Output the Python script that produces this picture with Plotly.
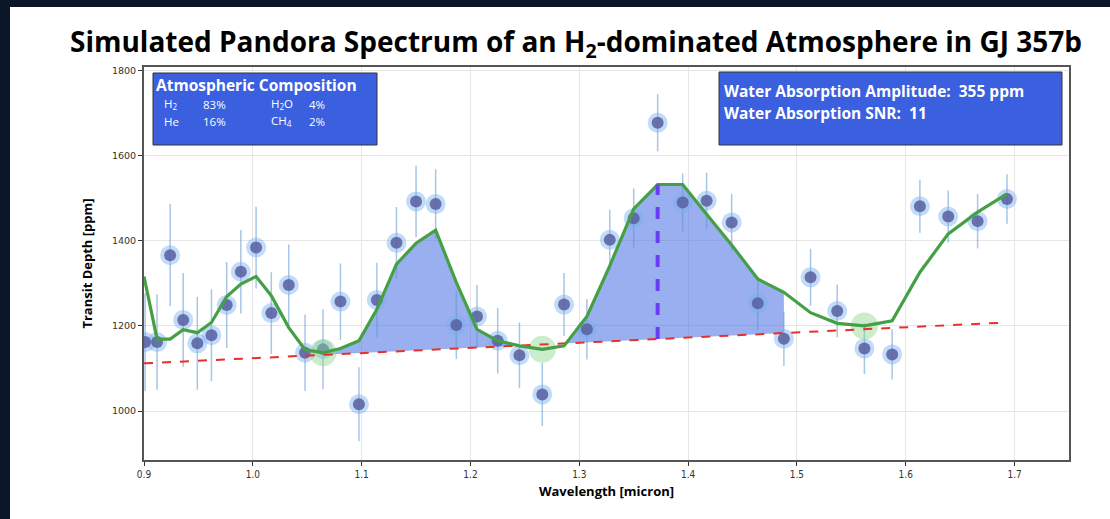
import numpy as np
import plotly.graph_objects as go

# ---------------- data ----------------
wavelength = [0.901, 0.912, 0.924, 0.936, 0.949, 0.962, 0.976, 0.989, 1.003, 1.017,
              1.033, 1.048, 1.0645, 1.0805, 1.0975, 1.114, 1.132, 1.150, 1.168, 1.187,
              1.206, 1.225, 1.245, 1.266, 1.286, 1.307, 1.328, 1.350, 1.372, 1.395,
              1.417, 1.440, 1.464, 1.488, 1.5125, 1.537, 1.562, 1.5875, 1.613, 1.639,
              1.666, 1.693]
depth = [1162, 1162, 1366, 1214, 1159, 1178, 1249, 1327, 1384, 1230,
         1296, 1137, 1145, 1257, 1016, 1261, 1395, 1492, 1486, 1202,
         1222, 1165, 1131, 1039, 1250, 1192, 1402, 1453, 1677, 1490,
         1494, 1443, 1253, 1170, 1314, 1235, 1147, 1133, 1481, 1457,
         1446, 1498]
depth_err = [115, 112, 120, 110, 109, 108, 101, 98, 96, 96,
             95, 90, 94, 90, 87, 87, 84, 84, 82, 80,
             74, 77, 77, 74, 74, 71, 71, 70, 67, 68,
             66, 67, 63, 64, 67, 62, 60, 59, 62, 61,
             64, 58]
model_x = [0.900, 0.912, 0.924, 0.936, 0.949, 0.962, 0.976, 0.989, 1.003, 1.017,
           1.033, 1.048, 1.0645, 1.0805, 1.0975, 1.114, 1.132, 1.150, 1.168, 1.187,
           1.206, 1.225, 1.245, 1.266, 1.286, 1.307, 1.328, 1.350, 1.372, 1.395,
           1.417, 1.440, 1.464, 1.488, 1.5125, 1.537, 1.562, 1.5875, 1.613, 1.639,
           1.666, 1.693]
model_y = [1316, 1169, 1169, 1191, 1184, 1208, 1269, 1298, 1316, 1271,
           1196, 1144, 1137, 1147, 1165, 1239, 1345, 1394, 1425, 1302,
           1192, 1165, 1153, 1145, 1153, 1222, 1341, 1475, 1532, 1532,
           1462, 1390, 1310, 1279, 1231, 1206, 1200, 1212, 1326, 1416,
           1467, 1510]
continuum_x = [0.900, 1.693]
continuum_y = [1112, 1208]
anchor_x = [1.0645, 1.266, 1.562]
band1 = [1.0645, 1.245]
band2 = [1.286, 1.488]
peak_x = 1.372
composition_rows = [["H<sub>2</sub>", "83%", "H<sub>2</sub>O", "4%"],
                    ["He", "16%", "CH<sub>4</sub>", "2%"]]
water_amp = 355
water_snr = 11
x_ticks = [0.9, 1.0, 1.1, 1.2, 1.3, 1.4, 1.5, 1.6, 1.7]
y_ticks = [1000, 1200, 1400, 1600, 1800]

# ---------------- derived ----------------
mx = np.array(model_x)
my = np.array(model_y)


def cont(x):
    return np.interp(x, continuum_x, continuum_y)


fig = go.Figure()

# absorption bands (fill between model and continuum)
for lo, hi in (band1, band2):
    m = (mx >= lo - 1e-9) & (mx <= hi + 1e-9)
    xs = mx[m]
    ys = my[m]
    fig.add_trace(go.Scatter(
        x=np.concatenate([xs, xs[::-1]]),
        y=np.concatenate([ys, cont(xs)[::-1]]),
        fill="toself", fillcolor="rgba(70,110,225,0.55)",
        line=dict(width=0), mode="lines", hoverinfo="skip", showlegend=False))

# data: error bars + glow + core
fig.add_trace(go.Scatter(
    x=wavelength, y=depth, mode="markers",
    marker=dict(size=20, color="rgba(120,175,240,0.45)", line=dict(width=0)),
    error_y=dict(type="data", array=depth_err, visible=True,
                 color="rgba(95,150,210,0.55)", thickness=1.5, width=0),
    showlegend=False))
fig.add_trace(go.Scatter(
    x=wavelength, y=depth, mode="markers",
    marker=dict(size=12, color="rgba(90,98,160,0.88)", line=dict(width=0)),
    showlegend=False))

# continuum anchor circles
fig.add_trace(go.Scatter(
    x=anchor_x, y=np.interp(anchor_x, mx, my), mode="markers",
    marker=dict(size=27, color="rgba(140,215,140,0.45)", line=dict(width=0)),
    showlegend=False))

# continuum line
fig.add_trace(go.Scatter(
    x=continuum_x, y=continuum_y, mode="lines",
    line=dict(color="#e8302a", width=2, dash="dash"), showlegend=False))

# model
fig.add_trace(go.Scatter(
    x=model_x, y=model_y, mode="lines",
    line=dict(color="#45a045", width=3.2), showlegend=False))

# amplitude marker
peak_y = float(np.interp(peak_x, mx, my))
fig.add_trace(go.Scatter(
    x=[peak_x, peak_x], y=[float(cont(peak_x)), peak_y], mode="lines",
    line=dict(color="#6a3cf5", width=4, dash="dash"), showlegend=False))

# ---------------- layout ----------------
W, H = 1110, 519
L, R, T, B = 144, 41, 67, 59
pw, ph = W - L - R, H - T - B
BG = "#0b1628"


def px(xpage):
    return (xpage - L) / pw


def py(ypage):
    return (H - B - ypage) / ph


shapes = [
    # white panel on dark background
    dict(type="rect", xref="paper", yref="paper", x0=px(10), x1=px(1115),
         y0=py(525), y1=py(7), fillcolor="white", line=dict(width=0), layer="below"),
    # composition box
    dict(type="rect", xref="paper", yref="paper", x0=px(153), x1=px(377),
         y0=py(145), y1=py(73), fillcolor="#3a60e0", line=dict(color="#333", width=1)),
    # water box
    dict(type="rect", xref="paper", yref="paper", x0=px(719), x1=px(1062),
         y0=py(145), y1=py(72), fillcolor="#3a60e0", line=dict(color="#333", width=1)),
]

font_box = "Open Sans, sans-serif"
annotations = [
    dict(xref="paper", yref="paper", x=px(154), y=py(85), xanchor="left", yanchor="middle",
         text="<b>Atmospheric Composition</b>", showarrow=False,
         font=dict(family=font_box, size=15.5, color="white")),
    dict(xref="paper", yref="paper", x=px(722), y=py(91), xanchor="left", yanchor="middle",
         text=f"<b>Water Absorption Amplitude:  {water_amp} ppm</b>", showarrow=False,
         font=dict(family=font_box, size=15.5, color="white")),
    dict(xref="paper", yref="paper", x=px(722), y=py(113), xanchor="left", yanchor="middle",
         text=f"<b>Water Absorption SNR:  {water_snr}</b>", showarrow=False,
         font=dict(family=font_box, size=15.5, color="white")),
]
col_px = [162, 201, 269, 307]
row_px = [104, 121]
for r, row in enumerate(composition_rows):
    for c, txt in enumerate(row):
        annotations.append(dict(
            xref="paper", yref="paper", x=px(col_px[c]), y=py(row_px[r]),
            xanchor="left", yanchor="middle", text=txt, showarrow=False,
            font=dict(family=font_box, size=11.5, color="white")))

fig.update_layout(
    width=W, height=H,
    margin=dict(l=L, r=R, t=T, b=B),
    paper_bgcolor=BG,
    plot_bgcolor="white",
    showlegend=False,
    title=dict(text="<b>Simulated Pandora Spectrum of an H<sub>2</sub>-dominated Atmosphere in GJ 357b</b>",
               x=px(576), xref="paper", xanchor="center",
               y=1 - 42 / H, yref="container", yanchor="middle",
               font=dict(family="Open Sans, sans-serif", size=28, color="black")),
    shapes=shapes,
    annotations=annotations,
)

fig.update_xaxes(
    range=[0.9, 1.75], tickvals=x_ticks, ticktext=[f"{v:.1f}" for v in x_ticks],
    showgrid=True, gridcolor="#e6e6e6", gridwidth=1, layer="above traces",
    showline=True, linecolor="#555", linewidth=2, mirror=True,
    ticks="outside", ticklen=4, tickcolor="#333", zeroline=False,
    tickfont=dict(family="Liberation Sans Narrow, DejaVu Sans Condensed, Open Sans", size=10, color="#333"),
    title=dict(text="<b>Wavelength [micron]</b>", standoff=8,
               font=dict(family="Open Sans, sans-serif", size=13, color="black")))
fig.update_yaxes(
    range=[885, 1808], tickvals=y_ticks,
    showgrid=True, gridcolor="#e6e6e6", gridwidth=1, layer="above traces",
    showline=True, linecolor="#555", linewidth=2, mirror=True,
    ticks="outside", ticklen=4, tickcolor="#333", zeroline=False,
    tickfont=dict(family="DejaVu Sans, sans-serif", size=9.5, color="#333"),
    title=dict(text="<b>Transit Depth [ppm]</b>", standoff=16,
               font=dict(family="Open Sans, sans-serif", size=13, color="black")))

fig.write_html(
    "out.html",
    config={"displayModeBar": False},
    post_script=(f"document.body.style.margin='0';"
                 f"document.body.style.background='{BG}';"
                 f"document.body.style.overflow='hidden';"))
